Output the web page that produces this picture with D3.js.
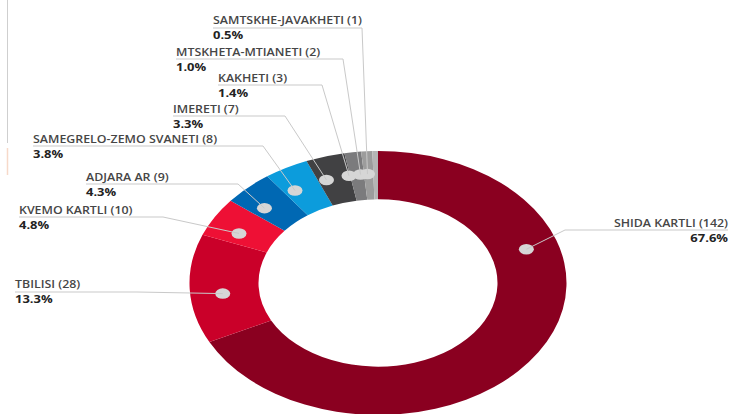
<!DOCTYPE html>
<html>
<head>
<meta charset="utf-8">
<script src="https://cdnjs.cloudflare.com/ajax/libs/d3/7.8.5/d3.min.js"></script>
<style>
  body { margin: 0; background: #fff; }
  svg { display: block; font-family: "Open Sans", sans-serif; }
</style>
</head>
<body>
<div id="chart"></div>
<script>
// data
var regions = ["SHIDA KARTLI", "TBILISI", "KVEMO KARTLI", "ADJARA AR", "SAMEGRELO-ZEMO SVANETI",
               "IMERETI", "KAKHETI", "MTSKHETA-MTIANETI", "SAMTSKHE-JAVAKHETI"];
var counts = [142, 28, 10, 9, 8, 7, 3, 2, 1];
var percents = ["67.6%", "13.3%", "4.8%", "4.3%", "3.8%", "3.3%", "1.4%", "1.0%", "0.5%"];
var colors = ["#8a0020", "#ca0029", "#ee1035", "#0068b3", "#0c9cdc",
              "#414143", "#7b7b7d", "#9c9c9c", "#b5b5b5"];

// layout
var width = 732, height = 414;
var cx = 378, cy = 283, squash = 0.7;
var outerR = 188.5, innerR = 119.5, dotR = 156;
var dotShift = -3 * Math.PI / 180;   // dots sit a little before the slice middle
var textStretch = 1.18;

// label placement: text x, baseline, line y, bend x, anchor
var labelLayout = [
  {x: 728, y: 227, ly: 230, bx: 565, anchor: "end", angle: 72},
  {x: 15,  y: 288, ly: 292, bx: 137},
  {x: 19,  y: 214, ly: 217, bx: 163},
  {x: 86,  y: 181, ly: 184, bx: 238},
  {x: 33,  y: 143, ly: 146, bx: 263},
  {x: 173, y: 113, ly: 116, bx: 285},
  {x: 218, y: 82,  ly: 85,  bx: 322},
  {x: 176, y: 56,  ly: 59,  bx: 343},
  {x: 213, y: 24,  ly: 28,  bx: 362}
];

var svg = d3.select("#chart")
  .append("svg")
    .attr("width", width)
    .attr("height", height);

// stray page borders
svg.append("line").attr("x1", 7.5).attr("x2", 7.5).attr("y1", 0).attr("y2", 143)
  .attr("stroke", "#cfcfcf").attr("stroke-width", 1);
svg.append("line").attr("x1", 7.5).attr("x2", 7.5).attr("y1", 148).attr("y2", 175)
  .attr("stroke", "#f7d9c9").attr("stroke-width", 1.5);

var pie = d3.pie().sort(null).value(function(d) { return d; });
var arcs = pie(counts);

var arc = d3.arc().innerRadius(innerR).outerRadius(outerR);

var g = svg.append("g")
  .attr("transform", "translate(" + cx + "," + cy + ") scale(1," + squash + ")");

g.selectAll("path")
  .data(arcs)
  .enter()
  .append("path")
    .attr("d", arc)
    .attr("fill", function(d, i) { return colors[i]; });

// dot position for each slice (pie coords, before squash)
function dotPos(d, i) {
  var a = labelLayout[i].angle != null ? labelLayout[i].angle * Math.PI / 180
                                       : (d.startAngle + d.endAngle) / 2 + dotShift;
  return [Math.sin(a) * dotR, -Math.cos(a) * dotR];
}

// leader lines
svg.selectAll("polyline.leader")
  .data(arcs)
  .enter()
  .append("polyline")
    .attr("class", "leader")
    .attr("fill", "none")
    .attr("stroke", "#c9c9c9")
    .attr("stroke-width", 1)
    .attr("points", function(d, i) {
      var L = labelLayout[i], p = dotPos(d, i);
      return [[L.x, L.ly], [L.bx, L.ly], [cx + p[0], cy + p[1] * squash]].join(" ");
    });

// dots
g.selectAll("circle")
  .data(arcs)
  .enter()
  .append("circle")
    .attr("cx", function(d, i) { return dotPos(d, i)[0]; })
    .attr("cy", function(d, i) { return dotPos(d, i)[1]; })
    .attr("r", 7.5)
    .attr("fill", "#d6d6d6");

// labels
var labels = svg.selectAll("g.label")
  .data(arcs)
  .enter()
  .append("g")
    .attr("class", "label")
    .attr("transform", function(d, i) {
      return "translate(" + labelLayout[i].x + "," + labelLayout[i].y + ") scale(" + textStretch + ",1)";
    });

labels.append("text")
  .attr("text-anchor", function(d, i) { return labelLayout[i].anchor || "start"; })
  .attr("font-size", 10.5)
  .attr("font-weight", 600)
  .attr("fill", "#464646")
  .text(function(d, i) { return regions[i] + " (" + counts[i] + ")"; });

labels.append("text")
  .attr("y", 15.5)
  .attr("text-anchor", function(d, i) { return labelLayout[i].anchor || "start"; })
  .attr("font-size", 11)
  .attr("font-weight", 700)
  .attr("fill", "#222")
  .text(function(d, i) { return percents[i]; });
</script>
</body>
</html>
